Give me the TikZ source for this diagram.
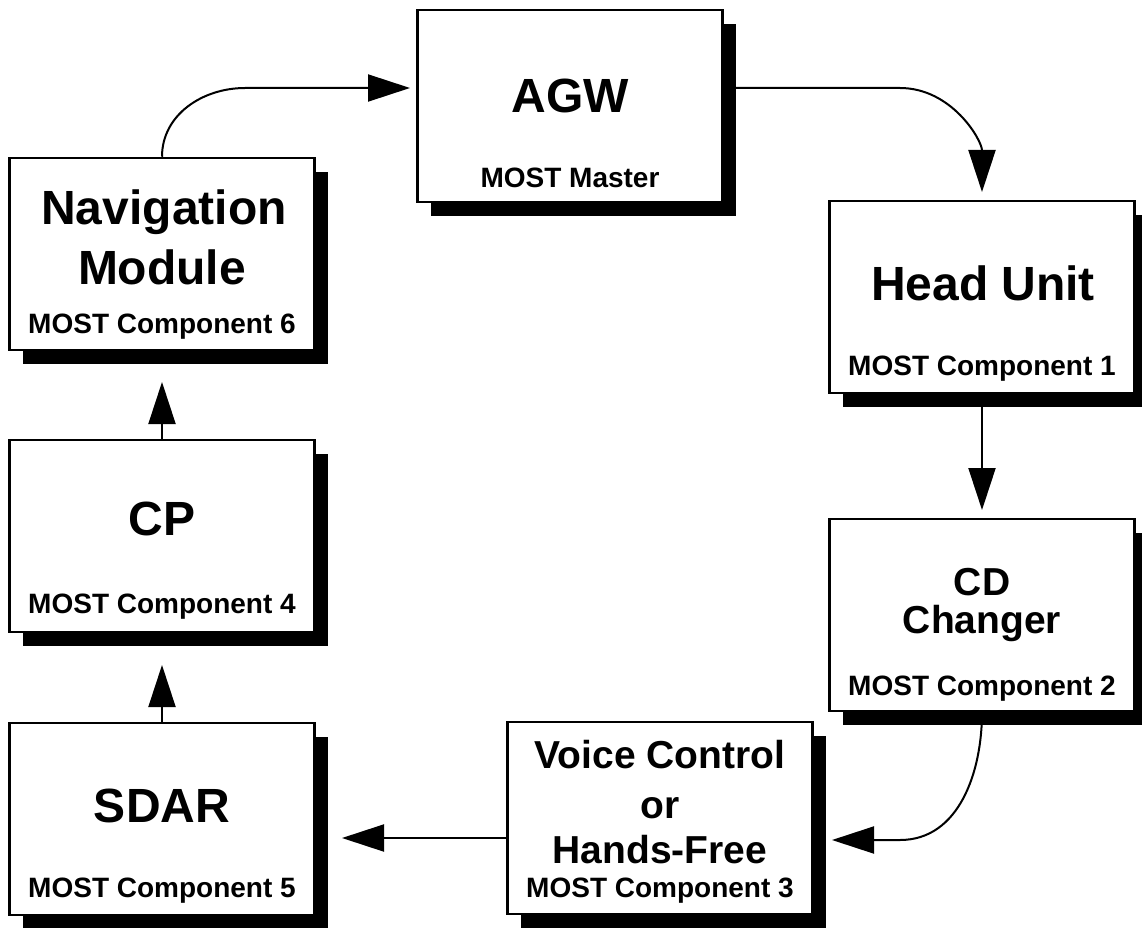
\documentclass[tikz,border=0pt]{standalone}
\usepackage{fontspec}
\setmainfont{Liberation Sans}
\usetikzlibrary{arrows.meta,shadows}
\begin{document}
\begin{tikzpicture}[x=1pt,y=1pt,
 box/.style={draw,line width=2.5pt,fill=white,minimum width=305pt,minimum height=192pt,inner sep=0pt,
   drop shadow={shadow xshift=13pt,shadow yshift=-14pt,opacity=1,fill=black}},
 ttl/.style={anchor=base,font=\fontsize{48}{48}\selectfont\bfseries,inner sep=0pt},
 mid/.style={anchor=base,font=\fontsize{39}{39}\selectfont\bfseries,inner sep=0pt},
 sub/.style={anchor=base,font=\fontsize{28}{28}\selectfont\bfseries,inner sep=0pt},
 conn/.style={line width=2pt,-{Triangle[length=42pt,width=27pt]}}]
\useasboundingbox (0,0) rectangle (1142,-928);
% boxes
\node[box] (agw) at (570,-106) {};
\node[box] (nav) at (162,-254) {};
\node[box] (hu) at (982,-297) {};
\node[box] (cd) at (982,-615) {};
\node[box] (vc) at (660,-818) {};
\node[box] (sdar) at (162,-819) {};
\node[box] (cp) at (162,-536) {};
% texts
\node[ttl] (agwT) at (570,-113) {AGW};
\node[sub] (agwS) at (570,-187) {MOST Master};
\node[ttl] (navT1) at (164,-224) {Navigation};
\node[ttl] (navT2) at (162,-284) {Module};
\node[sub] (navS) at (162,-333) {MOST Component 6};
\node[ttl] (huT) at (983,-300) {Head Unit};
\node[sub] (huS) at (982,-375) {MOST Component 1};
\node[mid] (cdT1) at (982,-595) {CD};
\node[mid] (cdT2) at (982,-633) {Changer};
\node[sub] (cdS) at (982,-695) {MOST Component 2};
\node[mid] (vcT1) at (660,-768) {Voice Control};
\node[mid] (vcT2) at (660,-818) {or};
\node[mid] (vcT3) at (660,-863) {Hands-Free};
\node[sub] (vcS) at (660,-897) {MOST Component 3};
\node[ttl] (sdarT) at (162,-822) {SDAR};
\node[sub] (sdarS) at (162,-897) {MOST Component 5};
\node[ttl] (cpT) at (162,-535) {CP};
\node[sub] (cpS) at (162,-613) {MOST Component 4};
% connector coordinates
\coordinate (nA) at (245,-88);
\coordinate (aT) at (410,-88);
\coordinate (hA) at (900,-88);
\coordinate (hT) at (982,-192);
\coordinate (cT) at (982,-510);
\coordinate (vA) at (900,-840);
\coordinate (vT) at (832,-840);
\coordinate (sT) at (342,-838);
\coordinate (pT) at (162,-665);
\coordinate (nT) at (162,-382);
% connectors
\draw[conn] (nav.north) to[out=90,in=180] (nA) -- (aT);
\draw[conn] (agw.east |- hA) -- (hA) to[out=0,in=90] (hT);
\draw[conn] (hu.south) -- (cT);
\draw[conn] (cd.south) to[out=-90,in=0] (vA) -- (vT);
\draw[conn] (vc.west |- sT) -- (sT);
\draw[conn] (sdar.north) -- (pT);
\draw[conn] (cp.north) -- (nT);
\end{tikzpicture}
\end{document}
